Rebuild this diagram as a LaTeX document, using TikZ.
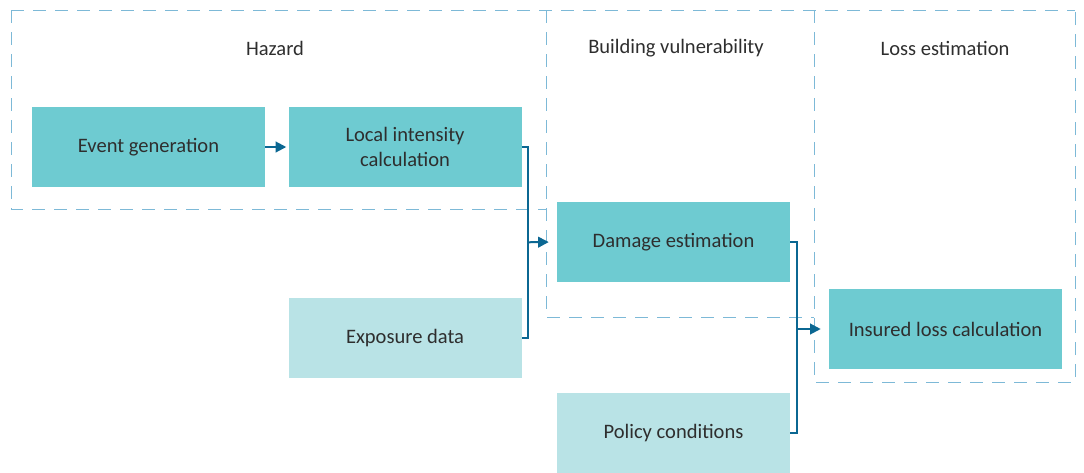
\documentclass[tikz,border=0pt]{standalone}
\usepackage{fontspec}
\setmainfont{Carlito}
\usepackage{tikz}
\usetikzlibrary{positioning, calc, arrows.meta}
\definecolor{stepteal}{HTML}{6ECBD1}
\definecolor{inputteal}{HTML}{B9E3E6}
\definecolor{linkblue}{HTML}{0B6792}
\definecolor{groupblue}{HTML}{7DB9D7}
\definecolor{labelgrey}{HTML}{2E2E2E}
\tikzstyle{stepbox} = [rectangle, fill=stepteal, minimum width=174.75pt, minimum height=60pt, text centered, align=center, text=labelgrey]
\tikzstyle{inputbox} = [stepbox, fill=inputteal]
\tikzstyle{group} = [draw=groupblue, line width=0.75pt, dash pattern=on 9.5pt off 7pt]
\tikzstyle{grouptitle} = [text=labelgrey]
\tikzstyle{link} = [line width=1.5pt, draw=linkblue]
\tikzstyle{arrow} = [link, -{Triangle[length=8pt,width=8pt]}, shorten >=6pt]
\tikzstyle{every node}=[font=\fontsize{15.4pt}{18.5pt}\selectfont]

\begin{document}
\begin{tikzpicture}[x=0.75pt, y=-0.75pt, node distance=17.25pt]
		\useasboundingbox (0,0) rectangle (1084,472);
		% groups
		\draw [group] (11,10) -- (1075,10);
		\draw [group] (11,10) -- (11,209) -- (546,209);
		\draw [group] (546,10) -- (546,317) -- (814,317);
		\draw [group] (814,10) -- (814,382) -- (1075,382) -- (1075,10);
		\node (hazard) [grouptitle] at (275,48) {Hazard};
		\node (vuln) [grouptitle] at (676,48) {Building vulnerability};
		\node (lossest) [grouptitle] at (945,48) {Loss estimation};
		% steps
		\node (event) [stepbox] at (148.5,147) {Event generation};
		\node (local) [stepbox, right=of event] {Local intensity\\calculation};
		\node (expo) [inputbox, below=82.5pt of local] {Exposure data};
		\node (damage) [stepbox] at (673.5,242) {Damage estimation};
		\node (policy) [inputbox, below=82.5pt of damage] {Policy conditions};
		\node (insured) [stepbox] at (945.5,329) {Insured loss calculation};
		% connectors
		\coordinate (hzjoin) at ($(local.east)!0.5!(expo.east)+(6,0)$);
		\coordinate (lossjoin) at ($(damage.east)+(7,0)$);
		\draw [arrow, shorten >=1.5pt](event) -- (local);
		\draw [link](local.east) -| (hzjoin) |- (expo.east);
		\draw [arrow](hzjoin) -- (damage.west);
		\draw [link](damage.east) -- (lossjoin) |- (policy.east);
		\draw [arrow](lossjoin |- insured.west) -- (insured.west);
	\end{tikzpicture}
\end{document}
